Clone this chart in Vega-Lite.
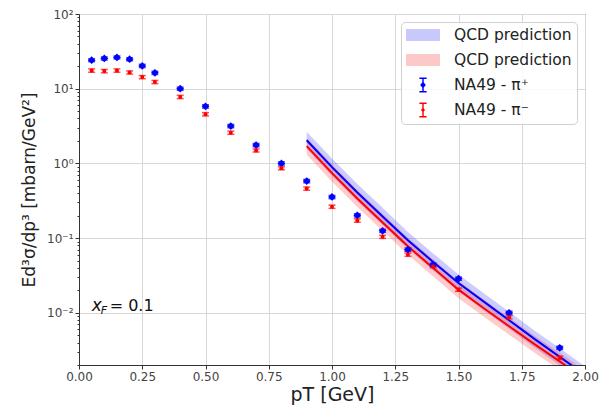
{
  "$schema": "https://vega.github.io/schema/vega-lite/v6.json",
  "width": 506,
  "height": 351,
  "autosize": {"type": "none"},
  "padding": {"left": 79, "top": 14, "right": 14, "bottom": 44},
  "background": "white",
  "datasets": {
    "pts": [
      {"pT": 0.05, "y": 24.1, "lo": 23.0, "hi": 25.2, "series": "pi_p"},
      {"pT": 0.10, "y": 25.4, "lo": 24.2, "hi": 26.6, "series": "pi_p"},
      {"pT": 0.15, "y": 26.2, "lo": 25.0, "hi": 27.4, "series": "pi_p"},
      {"pT": 0.20, "y": 24.8, "lo": 23.6, "hi": 26.0, "series": "pi_p"},
      {"pT": 0.25, "y": 20.2, "lo": 19.2, "hi": 21.2, "series": "pi_p"},
      {"pT": 0.30, "y": 16.3, "lo": 15.5, "hi": 17.1, "series": "pi_p"},
      {"pT": 0.40, "y": 10.0, "lo": 9.5, "hi": 10.5, "series": "pi_p"},
      {"pT": 0.50, "y": 5.8, "lo": 5.5, "hi": 6.1, "series": "pi_p"},
      {"pT": 0.60, "y": 3.16, "lo": 3.0, "hi": 3.32, "series": "pi_p"},
      {"pT": 0.70, "y": 1.76, "lo": 1.67, "hi": 1.85, "series": "pi_p"},
      {"pT": 0.80, "y": 1.0, "lo": 0.95, "hi": 1.05, "series": "pi_p"},
      {"pT": 0.90, "y": 0.58, "lo": 0.55, "hi": 0.61, "series": "pi_p"},
      {"pT": 1.00, "y": 0.355, "lo": 0.337, "hi": 0.373, "series": "pi_p"},
      {"pT": 1.10, "y": 0.202, "lo": 0.192, "hi": 0.212, "series": "pi_p"},
      {"pT": 1.20, "y": 0.125, "lo": 0.119, "hi": 0.131, "series": "pi_p"},
      {"pT": 1.30, "y": 0.070, "lo": 0.0665, "hi": 0.0735, "series": "pi_p"},
      {"pT": 1.40, "y": 0.044, "lo": 0.0418, "hi": 0.0462, "series": "pi_p"},
      {"pT": 1.50, "y": 0.0286, "lo": 0.0272, "hi": 0.0300, "series": "pi_p"},
      {"pT": 1.70, "y": 0.0100, "lo": 0.0095, "hi": 0.0105, "series": "pi_p"},
      {"pT": 1.90, "y": 0.0034, "lo": 0.00323, "hi": 0.00357, "series": "pi_p"},
      {"pT": 0.05, "y": 17.5, "lo": 16.6, "hi": 18.4, "series": "pi_m"},
      {"pT": 0.10, "y": 17.2, "lo": 16.3, "hi": 18.1, "series": "pi_m"},
      {"pT": 0.15, "y": 17.5, "lo": 16.6, "hi": 18.4, "series": "pi_m"},
      {"pT": 0.20, "y": 16.5, "lo": 15.7, "hi": 17.3, "series": "pi_m"},
      {"pT": 0.25, "y": 14.3, "lo": 13.6, "hi": 15.0, "series": "pi_m"},
      {"pT": 0.30, "y": 12.3, "lo": 11.7, "hi": 12.9, "series": "pi_m"},
      {"pT": 0.40, "y": 7.76, "lo": 7.37, "hi": 8.15, "series": "pi_m"},
      {"pT": 0.50, "y": 4.55, "lo": 4.32, "hi": 4.78, "series": "pi_m"},
      {"pT": 0.60, "y": 2.58, "lo": 2.45, "hi": 2.71, "series": "pi_m"},
      {"pT": 0.70, "y": 1.49, "lo": 1.42, "hi": 1.56, "series": "pi_m"},
      {"pT": 0.80, "y": 0.86, "lo": 0.82, "hi": 0.90, "series": "pi_m"},
      {"pT": 0.90, "y": 0.46, "lo": 0.437, "hi": 0.483, "series": "pi_m"},
      {"pT": 1.00, "y": 0.263, "lo": 0.25, "hi": 0.276, "series": "pi_m"},
      {"pT": 1.10, "y": 0.172, "lo": 0.163, "hi": 0.181, "series": "pi_m"},
      {"pT": 1.20, "y": 0.104, "lo": 0.099, "hi": 0.109, "series": "pi_m"},
      {"pT": 1.30, "y": 0.060, "lo": 0.057, "hi": 0.063, "series": "pi_m"},
      {"pT": 1.40, "y": 0.042, "lo": 0.040, "hi": 0.044, "series": "pi_m"},
      {"pT": 1.50, "y": 0.0204, "lo": 0.0194, "hi": 0.0214, "series": "pi_m"},
      {"pT": 1.70, "y": 0.0087, "lo": 0.0083, "hi": 0.0091, "series": "pi_m"},
      {"pT": 1.90, "y": 0.0025, "lo": 0.00238, "hi": 0.00263, "series": "pi_m"}
    ],
    "qcd": [
      {"pT": 0.9, "y": 2.04, "lo": 1.57, "hi": 2.65, "series": "qcd_p"},
      {"pT": 1.0, "y": 0.89, "lo": 0.685, "hi": 1.16, "series": "qcd_p"},
      {"pT": 1.1, "y": 0.407, "lo": 0.313, "hi": 0.529, "series": "qcd_p"},
      {"pT": 1.2, "y": 0.195, "lo": 0.15, "hi": 0.254, "series": "qcd_p"},
      {"pT": 1.3, "y": 0.0933, "lo": 0.0718, "hi": 0.121, "series": "qcd_p"},
      {"pT": 1.4, "y": 0.0479, "lo": 0.0368, "hi": 0.0623, "series": "qcd_p"},
      {"pT": 1.5, "y": 0.0251, "lo": 0.0193, "hi": 0.0326, "series": "qcd_p"},
      {"pT": 1.6, "y": 0.0141, "lo": 0.0108, "hi": 0.0183, "series": "qcd_p"},
      {"pT": 1.7, "y": 0.00794, "lo": 0.00611, "hi": 0.0103, "series": "qcd_p"},
      {"pT": 1.8, "y": 0.00447, "lo": 0.00344, "hi": 0.00581, "series": "qcd_p"},
      {"pT": 1.9, "y": 0.00257, "lo": 0.00198, "hi": 0.00334, "series": "qcd_p"},
      {"pT": 2.0, "y": 0.00148, "lo": 0.00114, "hi": 0.00192, "series": "qcd_p"},
      {"pT": 0.9, "y": 1.70, "lo": 1.31, "hi": 2.21, "series": "qcd_m"},
      {"pT": 1.0, "y": 0.741, "lo": 0.57, "hi": 0.963, "series": "qcd_m"},
      {"pT": 1.1, "y": 0.339, "lo": 0.261, "hi": 0.441, "series": "qcd_m"},
      {"pT": 1.2, "y": 0.162, "lo": 0.125, "hi": 0.211, "series": "qcd_m"},
      {"pT": 1.3, "y": 0.0776, "lo": 0.0597, "hi": 0.101, "series": "qcd_m"},
      {"pT": 1.4, "y": 0.0398, "lo": 0.0306, "hi": 0.0517, "series": "qcd_m"},
      {"pT": 1.5, "y": 0.0204, "lo": 0.0157, "hi": 0.0265, "series": "qcd_m"},
      {"pT": 1.6, "y": 0.0115, "lo": 0.00885, "hi": 0.015, "series": "qcd_m"},
      {"pT": 1.7, "y": 0.00661, "lo": 0.00508, "hi": 0.00859, "series": "qcd_m"},
      {"pT": 1.8, "y": 0.0038, "lo": 0.00292, "hi": 0.00494, "series": "qcd_m"},
      {"pT": 1.9, "y": 0.00224, "lo": 0.00172, "hi": 0.00291, "series": "qcd_m"},
      {"pT": 2.0, "y": 0.00129, "lo": 0.00099, "hi": 0.00168, "series": "qcd_m"}
    ],
    "annot": [{"pT": 0.05, "y": 0.0124}]
  },
  "layer": [
    {
      "data": {"name": "qcd"},
      "mark": {"type": "area", "fillOpacity": 0.2, "clip": true},
      "encoding": {
        "x": {"field": "pT", "type": "quantitative", "scale": {"domain": [0, 2], "nice": false, "padding": 0},
              "axis": {"values": [0, 0.25, 0.5, 0.75, 1, 1.25, 1.5, 1.75, 2], "format": ".2f", "labelFlush": false, "title": "pT [GeV]", "titleFontSize": 19, "titlePadding": 3}},
        "y": {"field": "lo", "type": "quantitative",
              "scale": {"type": "log", "domain": [0.002, 100], "nice": false, "padding": 0},
              "axis": {
                "values": [0.002,0.003,0.004,0.005,0.006,0.007,0.008,0.009,0.01,0.02,0.03,0.04,0.05,0.06,0.07,0.08,0.09,0.1,0.2,0.3,0.4,0.5,0.6,0.7,0.8,0.9,1,2,3,4,5,6,7,8,9,10,20,30,40,50,60,70,80,90,100],
                "labelExpr": "datum.value == 100 ? '10²' : datum.value == 10 ? '10¹' : datum.value == 1 ? '10⁰' : datum.value == 0.1 ? '10⁻¹' : datum.value == 0.01 ? '10⁻²' : ''",
                "labelFlush": false,
                "tickSize": {"condition": {"test": "indexof([0.01, 0.1, 1, 10, 100], datum.value) >= 0", "value": 4}, "value": 2},
                "gridOpacity": {"condition": {"test": "indexof([0.01, 0.1, 1, 10, 100], datum.value) >= 0", "value": 1}, "value": 0},
                "title": "Ed³σ/dp³ [mbarn/GeV²]", "titleFontSize": 17, "titlePadding": 8
              }},
        "y2": {"field": "hi"},
        "fill": {"field": "series", "type": "nominal", "scale": {"domain": ["pi_p", "pi_m", "qcd_p", "qcd_m"], "range": ["#0000ff", "#ff0000", "#0000ff", "#ff0000"]}, "legend": null}
      }
    },
    {
      "data": {"name": "qcd"},
      "mark": {"type": "line", "strokeWidth": 2, "clip": true},
      "encoding": {
        "x": {"field": "pT", "type": "quantitative"},
        "y": {"field": "y", "type": "quantitative"},
        "stroke": {"field": "series", "type": "nominal", "scale": {"domain": ["pi_m", "pi_p", "qcd_m", "qcd_p"], "range": ["#ff0000", "#0000ff", "#ff0000", "#0000ff"]}, "legend": null}
      }
    },
    {
      "data": {"name": "pts"},
      "mark": {"type": "rule", "strokeWidth": 1.5},
      "encoding": {
        "x": {"field": "pT", "type": "quantitative"},
        "y": {"field": "lo", "type": "quantitative"},
        "y2": {"field": "hi"},
        "stroke": {"field": "series", "type": "nominal", "legend": null}
      }
    },
    {
      "data": {"name": "pts"},
      "mark": {"type": "tick", "orient": "horizontal", "size": 7, "thickness": 1.5},
      "encoding": {
        "x": {"field": "pT", "type": "quantitative"},
        "y": {"field": "lo", "type": "quantitative"},
        "fill": {"field": "series", "type": "nominal", "legend": null}
      }
    },
    {
      "data": {"name": "pts"},
      "mark": {"type": "tick", "orient": "horizontal", "size": 7, "thickness": 1.5},
      "encoding": {
        "x": {"field": "pT", "type": "quantitative"},
        "y": {"field": "hi", "type": "quantitative"},
        "fill": {"field": "series", "type": "nominal", "legend": null}
      }
    },
    {
      "data": {"name": "pts"},
      "transform": [{"filter": "datum.series == 'pi_p'"}],
      "mark": {"type": "point", "shape": "diamond", "filled": true, "size": 60, "opacity": 1},
      "encoding": {
        "x": {"field": "pT", "type": "quantitative"},
        "y": {"field": "y", "type": "quantitative"},
        "fill": {"field": "series", "type": "nominal", "legend": null}
      }
    },
    {
      "data": {"name": "pts"},
      "transform": [{"filter": "datum.series == 'pi_m'"}],
      "mark": {"type": "point", "shape": "circle", "filled": true, "size": 16, "opacity": 1},
      "encoding": {
        "x": {"field": "pT", "type": "quantitative"},
        "y": {"field": "y", "type": "quantitative"},
        "fill": {"field": "series", "type": "nominal", "legend": null}
      }
    },
    {
      "data": {"name": "pts"},
      "transform": [{"filter": "false"}],
      "mark": {"type": "point", "filled": true},
      "encoding": {
        "x": {"field": "pT", "type": "quantitative"},
        "y": {"field": "y", "type": "quantitative"},
        "color": {"field": "series", "type": "nominal",
                  "scale": {"domain": ["qcd_p", "qcd_m", "pi_p", "pi_m"], "range": ["#c8c8fb", "#fcc8c8", "#0000ff", "#ff0000"]},
                  "legend": {"title": null, "labelExpr": "datum.value == 'pi_p' ? 'NA49 - π⁺' : datum.value == 'pi_m' ? 'NA49 - π⁻' : 'QCD prediction'"}},
        "shape": {"field": "series", "type": "nominal",
                  "scale": {"domain": ["qcd_p", "qcd_m", "pi_p", "pi_m"],
                            "range": ["M-1,-0.75H3.25V0.75H-1Z", "M-1,-0.75H3.25V0.75H-1Z",
                                      "M1.035,-0.95H1.215V0.95H1.035Z M0.675,-0.95H1.575V-0.76H0.675Z M0.675,0.76H1.575V0.95H0.675Z M1.125,-0.45L1.475,0L1.125,0.45L0.775,0Z",
                                      "M1.035,-0.95H1.215V0.95H1.035Z M0.675,-0.95H1.575V-0.76H0.675Z M0.675,0.76H1.575V0.95H0.675Z M1.125,-0.3L1.375,0L1.125,0.3L0.875,0Z"]},
                  "legend": {"title": null, "labelExpr": "datum.value == 'pi_p' ? 'NA49 - π⁺' : datum.value == 'pi_m' ? 'NA49 - π⁻' : 'QCD prediction'"}}
      }
    },
    {
      "data": {"name": "annot"},
      "mark": {"type": "text", "text": "x", "align": "left", "baseline": "middle", "fontSize": 17, "fontStyle": "italic", "font": "DejaVu Sans", "color": "#111"},
      "encoding": {"x": {"field": "pT", "type": "quantitative"}, "y": {"field": "y", "type": "quantitative"}}
    },
    {
      "data": {"name": "annot"},
      "mark": {"type": "text", "text": "F", "align": "left", "baseline": "middle", "fontSize": 11, "fontStyle": "italic", "font": "DejaVu Sans", "dx": 9, "dy": 5, "color": "#111"},
      "encoding": {"x": {"field": "pT", "type": "quantitative"}, "y": {"field": "y", "type": "quantitative"}}
    },
    {
      "data": {"name": "annot"},
      "mark": {"type": "text", "text": "= 0.1", "align": "left", "baseline": "middle", "fontSize": 16, "font": "DejaVu Sans", "dx": 18, "color": "#111"},
      "encoding": {"x": {"field": "pT", "type": "quantitative"}, "y": {"field": "y", "type": "quantitative"}}
    }
  ],
  "config": {
    "font": "DejaVu Sans",
    "view": {"stroke": "#333", "strokeWidth": 1},
    "axis": {
      "labelFont": "DejaVu Sans", "labelFontSize": 12, "labelColor": "#444",
      "titleFont": "DejaVu Sans", "titleFontWeight": "normal", "titleColor": "#222",
      "gridColor": "#d8d8d8", "gridWidth": 1, "domainColor": "#333", "tickColor": "#333",
      "tickSize": 4, "labelPadding": 2
    },
    "legend": {
      "orient": "top-right", "offset": 8, "padding": 5,
      "fillColor": "rgba(255,255,255,0.85)", "strokeColor": "#d0d0d0", "cornerRadius": 4,
      "labelFont": "DejaVu Sans", "labelFontSize": 15.5, "labelColor": "#222",
      "symbolSize": 256, "symbolOpacity": 1, "symbolStrokeWidth": 0, "labelOffset": 32, "rowPadding": 8
    }
  }
}
